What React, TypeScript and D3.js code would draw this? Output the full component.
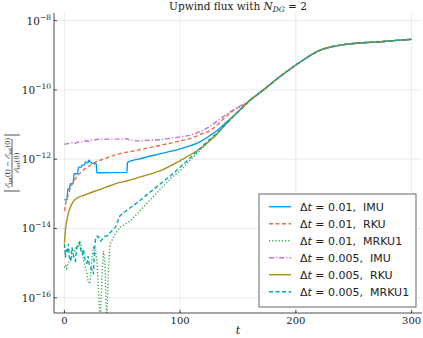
import * as d3 from "d3";

const W = 423;
const H = 338;
const MARGIN = { top: 13, right: 1, bottom: 25, left: 54 };

// log10 of |E_tot(t) - E_tot(0)| / E_tot(0)
const imu01: [number, number][] = [
  [0, -13.17], [2.2, -13.17], [2.9, -12.86], [4.5, -12.86], [4.9, -12.71], [7.5, -12.71],
  [8.4, -12.42], [11.3, -12.42], [12.1, -12.23], [14.5, -12.23], [15, -12.18], [17.5, -12.16],
  [18, -12.09], [20.5, -12.1], [21, -12.03], [22.5, -12.09], [24, -12.12], [27.5, -12.13],
  [28, -12.39], [54, -12.38], [54.5, -12.09], [65, -11.99], [83, -11.84], [100, -11.7],
  [117, -11.5], [126, -11.31], [132, -11.17], [140, -10.93], [150, -10.63], [155, -10.47],
];
const rku01: [number, number][] = [
  [0, -13.5], [1, -13.3], [2.6, -13.1], [5, -12.85], [8.4, -12.62], [12, -12.45], [15, -12.35],
  [19.9, -12.23], [26, -12.1], [34.3, -11.99], [48, -11.84], [63, -11.74], [83, -11.6],
  [100, -11.47], [109, -11.4], [118, -11.28], [126, -11.17], [133, -10.98], [140, -10.76],
  [148, -10.55], [155, -10.43],
];
const mrku01: [number, number][] = [
  [0, -15.13], [1, -15.05], [2, -15.15], [3, -15.0], [5, -14.94], [7, -14.75], [9, -14.65],
  [10.5, -14.5], [12, -14.55], [13.6, -14.36], [15, -14.6], [16.4, -14.9], [18, -15.1],
  [19.4, -15.3], [20.5, -15.52], [22, -15.6], [23.5, -15.0], [25, -14.55], [26.5, -14.6],
  [28, -14.9], [29.5, -15.8], [31, -16.8], [32.5, -15.3], [33.8, -14.65], [35, -15.0],
  [36.6, -16.8], [38, -15.2], [39.5, -14.45], [43.8, -14.16], [48, -13.97], [57, -13.78],
  [65, -13.5], [74, -13.18], [83, -12.86], [92, -12.55], [100, -12.33], [108, -12.05],
  [117, -11.75], [126, -11.45], [132, -11.25], [140, -10.97], [150, -10.63], [155, -10.47],
];
const imu005: [number, number][] = [
  [0, -11.57], [3, -11.55], [6, -11.53], [9, -11.54], [12, -11.5], [15, -11.5], [18, -11.47],
  [21, -11.48], [24, -11.44], [27, -11.43], [32, -11.43], [38, -11.42], [44, -11.42],
  [50, -11.42], [54, -11.41], [56, -11.44], [60, -11.47], [66, -11.47], [74, -11.45],
  [83, -11.44], [95, -11.38], [109, -11.31], [120, -11.17], [128, -11.0], [136, -10.8],
  [144, -10.62], [150, -10.5], [155, -10.41],
];
const rku005: [number, number][] = [
  [0, -14.43], [0.5, -14.2], [1, -14.0], [2, -13.78], [3.5, -13.55], [5, -13.4], [6.4, -13.29],
  [9, -13.17], [12, -13.1], [16, -13.05], [20, -13.0], [31, -12.87], [40, -12.76], [48, -12.67],
  [54, -12.63], [65, -12.52], [83, -12.33], [100, -12.04], [117, -11.7], [126, -11.46],
  [132, -11.27], [140, -10.97], [150, -10.63], [155, -10.47],
];
const mrku005: [number, number][] = [
  [0, -14.45], [0.8, -14.84], [1.6, -14.6], [2.5, -14.7], [3.5, -14.45], [4.5, -14.9],
  [5.5, -14.94], [6.5, -14.55], [7.5, -14.7], [8.5, -14.9], [9.5, -14.94], [10.5, -14.6],
  [11.5, -14.45], [12.7, -14.4], [13.5, -14.5], [14.5, -14.7], [15.5, -14.74], [16.5, -14.6],
  [17.5, -14.85], [18.5, -14.99], [19.5, -15.0], [20.5, -14.8], [21.5, -15.05], [22.8, -15.13],
  [24, -15.2], [25, -15.32], [26, -14.6], [27, -14.26], [29, -14.22], [31.4, -14.36],
  [33, -14.3], [35, -14.22], [37.2, -14.21], [40, -14.1], [44, -13.97], [48, -13.63],
  [55, -13.45], [65, -13.2], [74, -12.95], [83, -12.71], [92, -12.47], [100, -12.23],
  [108, -11.98], [117, -11.7], [126, -11.41], [132, -11.24], [140, -10.97], [150, -10.63],
  [155, -10.47],
];
// common part where all runs coincide
const tail: [number, number][] = [
  [160, -10.31], [172, -10.0], [186, -9.62], [200, -9.28], [208, -9.1], [215, -8.95],
  [222, -8.84], [230, -8.76], [244, -8.68], [258, -8.64], [273, -8.61], [287, -8.57],
  [300, -8.54],
];

const labels = ["0.01,\u00a0\u00a0IMU", "0.01,\u00a0\u00a0RKU", "0.01,\u00a0\u00a0MRKU1", "0.005,\u00a0\u00a0IMU", "0.005,\u00a0\u00a0RKU", "0.005,\u00a0\u00a0MRKU1"];
const colors = ["#009AFA", "#E36F47", "#3EA44E", "#C371D2", "#AC8E18", "#00AAAE"];
const dashes = [undefined, "4 2.5", "1.2 2", "5 2 1.2 2", undefined, "4 2.5"];
const smooth = [true, true, false, false, true, false];
const heads = [imu01, rku01, mrku01, imu005, rku005, mrku005];

const xTicks = [0, 100, 200, 300];
const yTicks = [-16, -14, -12, -10, -8];

export default function App() {
  const x0 = MARGIN.left;
  const x1 = W - MARGIN.right;
  const y0 = MARGIN.top;
  const y1 = H - MARGIN.bottom;

  const x = d3.scaleLinear().domain([-9, 309]).range([x0, x1]);
  const y = d3.scaleLog().domain([Math.pow(10, -16.44), Math.pow(10, -7.78)]).range([y1, y0]);

  const font = "'DejaVu Serif', serif";
  const sans = "'DejaVu Sans', sans-serif";

  const lineFor = (i: number) =>
    d3
      .line<[number, number]>()
      .x((d) => x(d[0]))
      .y((d) => y(Math.pow(10, d[1])))
      .curve(smooth[i] ? d3.curveMonotoneX : d3.curveLinear);

  const legX = 259;
  const legY = 194;

  return (
    <svg width={W} height={H} style={{ position: "absolute", left: 0, top: 0, background: "#fff" }}>
      <defs>
        <clipPath id="plot">
          <rect x={x0} y={y0} width={x1 - x0} height={y1 - y0} />
        </clipPath>
      </defs>

      {/* grid */}
      {xTicks.map((t) => (
        <line key={"gx" + t} x1={x(t)} x2={x(t)} y1={y0} y2={y1} stroke="#000" strokeOpacity={0.08} />
      ))}
      {yTicks.map((e) => (
        <line key={"gy" + e} x1={x0} x2={x1} y1={y(Math.pow(10, e))} y2={y(Math.pow(10, e))} stroke="#000" strokeOpacity={0.08} />
      ))}

      {/* series */}
      <g clipPath="url(#plot)">
        {heads.map((h, i) => (
          <path
            key={i}
            d={lineFor(i)([...h, ...tail]) || ""}
            fill="none"
            stroke={colors[i]}
            strokeWidth={1.4}
            strokeDasharray={dashes[i]}
          />
        ))}
      </g>

      {/* axes */}
      <line x1={x0} x2={x0} y1={y0} y2={y1} stroke="#000" strokeOpacity={0.7} />
      <line x1={x0} x2={x1} y1={y1} y2={y1} stroke="#000" strokeOpacity={0.7} />
      {xTicks.map((t) => (
        <g key={"tx" + t}>
          <line x1={x(t)} x2={x(t)} y1={y1} y2={y1 - 3} stroke="#000" strokeOpacity={0.7} />
          <text x={x(t)} y={y1 + 11} textAnchor="middle" fontFamily={font} fontSize={10} fill="#222">
            {t}
          </text>
        </g>
      ))}
      {yTicks.map((e) => (
        <g key={"ty" + e}>
          <line x1={x0} x2={x0 + 3} y1={y(Math.pow(10, e))} y2={y(Math.pow(10, e))} stroke="#000" strokeOpacity={0.7} />
          <text x={x0 - 3} y={y(Math.pow(10, e)) + 4} textAnchor="end" fontFamily={font} fontSize={10.5} fill="#222">
            10
            <tspan dy={-5} fontSize={7.5}>
              {"\u2212" + Math.abs(e)}
            </tspan>
          </text>
        </g>
      ))}

      {/* title */}
      <text x={(x0 + x1) / 2} y={10} textAnchor="middle" fontFamily={font} fontSize={10.5} fill="#222">
        Upwind flux with <tspan fontStyle="italic">N</tspan>
        <tspan dy={2} fontSize={7.5} fontStyle="italic">DG</tspan>
        <tspan dy={-2}> = 2</tspan>
      </text>

      {/* x label */}
      <text x={(x0 + x1) / 2} y={334} textAnchor="middle" fontFamily={font} fontSize={11} fontStyle="italic" fill="#222">
        t
      </text>

      {/* y label: |(E(t) - E(0)) / E(0)| */}
      <g transform={`translate(12,${(y0 + y1) / 2}) rotate(-90)`} fontFamily={font} fill="#222">
        <text x={0} y={-2} textAnchor="middle" fontSize={7}>
          <tspan fontStyle="italic">ℰ</tspan>
          <tspan fontSize={5} dy={1.5}>tot</tspan>
          <tspan dy={-1.5}>(t) − </tspan>
          <tspan fontStyle="italic">ℰ</tspan>
          <tspan fontSize={5} dy={1.5}>tot</tspan>
          <tspan dy={-1.5}>(0)</tspan>
        </text>
        <line x1={-24} x2={24} y1={0} y2={0} stroke="#222" strokeWidth={0.7} />
        <text x={0} y={6.5} textAnchor="middle" fontSize={7}>
          <tspan fontStyle="italic">ℰ</tspan>
          <tspan fontSize={5} dy={1.5}>tot</tspan>
          <tspan dy={-1.5}>(0)</tspan>
        </text>
        <line x1={-28} x2={-28} y1={-8} y2={8} stroke="#222" strokeWidth={0.8} />
        <line x1={28} x2={28} y1={-8} y2={8} stroke="#222" strokeWidth={0.8} />
      </g>

      {/* legend */}
      <rect x={legX} y={legY} width={157} height={113} fill="#fff" stroke="#666" strokeWidth={1} />
      {labels.map((l, i) => {
        const ly = legY + 12.7 + i * 17;
        return (
          <g key={"lg" + i}>
            <line x1={legX + 10} x2={legX + 32} y1={ly} y2={ly} stroke={colors[i]} strokeWidth={1.4} strokeDasharray={dashes[i]} />
            <text x={legX + 41} y={ly + 4} fontFamily={sans} fontSize={11} fill="#222">
              Δ<tspan fontStyle="italic">t</tspan> = {l}
            </text>
          </g>
        );
      })}
    </svg>
  );
}
